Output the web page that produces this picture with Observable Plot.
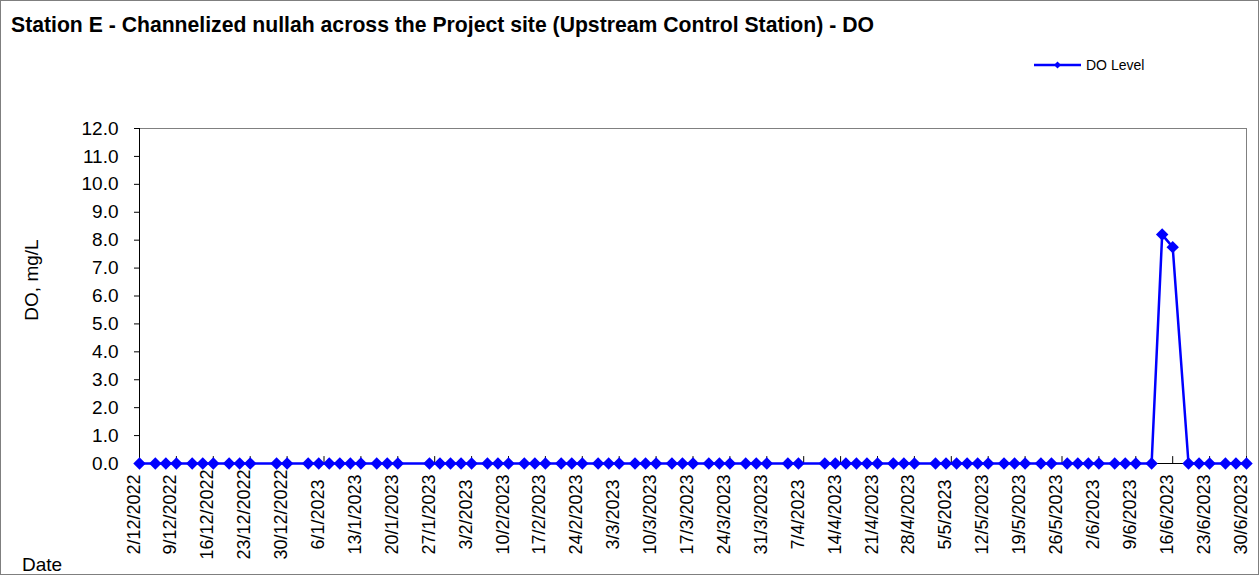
<!DOCTYPE html>
<html>
<head>
<meta charset="utf-8">
<script src="https://cdn.jsdelivr.net/npm/d3@7"></script>
<script src="https://cdn.jsdelivr.net/npm/@observablehq/plot@0.6"></script>
<style>
  body { margin: 0; background: #fff; font-family: Arial, "Liberation Sans", sans-serif; }
  #wrap { position: relative; width: 1259px; height: 575px; overflow: hidden; }
  #border { position: absolute; left: 0; top: 0; width: 1257px; height: 573px; border: 1px solid #7f7f7f; pointer-events: none; }
  #title { position: absolute; left: 11px; top: 14px; font-weight: bold; font-size: 21.2px; line-height: 21px; white-space: nowrap; color: #000; }
  #ylabel { position: absolute; left: 31px; top: 280px; font-size: 19px; line-height: 19px; white-space: nowrap; transform: translate(-50%, -50%) rotate(-90deg); color: #000; }
  #xlabel { position: absolute; left: 22px; top: 555px; font-size: 19px; line-height: 19px; color: #000; }
  #legend { position: absolute; left: 1034px; top: 57px; display: flex; align-items: center; font-size: 14px; line-height: 16px; color: #000; }
  #legend svg { margin-right: 5px; }
  #chart { position: absolute; left: 0; top: 0; }
</style>
</head>
<body>
<div id="wrap">
  <div id="chart"></div>
  <div id="title">Station E - Channelized nullah across the Project site (Upstream Control Station) - DO</div>
  <div id="legend"><svg width="47" height="16"><line x1="0" y1="8" x2="47" y2="8" stroke="#0000ff" stroke-width="2.5"/><path d="M23.5,4.5L27,8L23.5,11.5L20,8Z" fill="#0000ff"/></svg><span>DO Level</span></div>
  <div id="ylabel">DO, mg/L</div>
  <div id="xlabel">Date</div>
  <div id="border"></div>
</div>
<script>
// Sampling dates (d/m/yyyy)
const sampleDates = [
  "2/12/2022","5/12/2022","7/12/2022","9/12/2022","12/12/2022","14/12/2022","16/12/2022","19/12/2022","21/12/2022","23/12/2022","28/12/2022","30/12/2022",
  "3/1/2023","5/1/2023","7/1/2023","9/1/2023","11/1/2023","13/1/2023","16/1/2023","18/1/2023","20/1/2023","26/1/2023","28/1/2023","30/1/2023",
  "1/2/2023","3/2/2023","6/2/2023","8/2/2023","10/2/2023","13/2/2023","15/2/2023","17/2/2023","20/2/2023","22/2/2023","24/2/2023","27/2/2023",
  "1/3/2023","3/3/2023","6/3/2023","8/3/2023","10/3/2023","13/3/2023","15/3/2023","17/3/2023","20/3/2023","22/3/2023","24/3/2023","27/3/2023","29/3/2023","31/3/2023",
  "4/4/2023","6/4/2023","11/4/2023","13/4/2023","15/4/2023","17/4/2023","19/4/2023","21/4/2023","24/4/2023","26/4/2023","28/4/2023",
  "2/5/2023","4/5/2023","6/5/2023","8/5/2023","10/5/2023","12/5/2023","15/5/2023","17/5/2023","19/5/2023","22/5/2023","24/5/2023","27/5/2023","29/5/2023","31/5/2023",
  "2/6/2023","5/6/2023","7/6/2023","9/6/2023","12/6/2023","14/6/2023","16/6/2023","19/6/2023","21/6/2023","23/6/2023","26/6/2023","28/6/2023","30/6/2023"
];
// DO level, mg/L
const doLevels = [
  0,0,0,0,0,0,0,0,0,0,0,0,
  0,0,0,0,0,0,0,0,0,0,0,0,
  0,0,0,0,0,0,0,0,0,0,0,0,
  0,0,0,0,0,0,0,0,0,0,0,0,0,0,
  0,0,0,0,0,0,0,0,0,0,0,
  0,0,0,0,0,0,0,0,0,0,0,0,0,0,
  0,0,0,0,0,8.2,7.75,0,0,0,0,0,0
];
// X tick labels
const xTickLabels = [
  "2/12/2022","9/12/2022","16/12/2022","23/12/2022","30/12/2022",
  "6/1/2023","13/1/2023","20/1/2023","27/1/2023",
  "3/2/2023","10/2/2023","17/2/2023","24/2/2023",
  "3/3/2023","10/3/2023","17/3/2023","24/3/2023","31/3/2023",
  "7/4/2023","14/4/2023","21/4/2023","28/4/2023",
  "5/5/2023","12/5/2023","19/5/2023","26/5/2023",
  "2/6/2023","9/6/2023","16/6/2023","23/6/2023","30/6/2023"
];
// Y ticks
const yTicks = [0,1,2,3,4,5,6,7,8,9,10,11,12];

const parse = s => { const [d, m, y] = s.split("/").map(Number); return new Date(Date.UTC(y, m - 1, d)); };
const data = sampleDates.map((s, i) => ({date: parse(s), value: doLevels[i]}));
const tickDates = xTickLabels.map(parse);

const tickShape = { draw(ctx, l) { ctx.moveTo(0, 0); ctx.lineTo(0, -l); } };

const chart = Plot.plot({
  width: 1259,
  height: 575,
  marginLeft: 139,
  marginRight: 13,
  marginTop: 128,
  marginBottom: 112,
  style: {fontFamily: "Arial, 'Liberation Sans', sans-serif", fontSize: "19px", color: "#000", background: "transparent", overflow: "visible"},
  x: {type: "utc", domain: [tickDates[0], tickDates[tickDates.length - 1]], axis: null},
  y: {domain: [yTicks[0], yTicks[yTicks.length - 1]]},
  marks: [
    Plot.frame({stroke: "#808080"}),
    Plot.ruleX([tickDates[0]], {stroke: "#000"}),
    Plot.ruleY([yTicks[0]], {stroke: "#000"}),
    Plot.axisY({ticks: yTicks, tickFormat: d => d.toFixed(1), tickSize: 5, tickPadding: 16, label: null, fontSize: 19, stroke: "#000"}),
    Plot.vector(tickDates, {x: d => d, frameAnchor: "bottom", length: 7, anchor: "start", shape: tickShape, stroke: "#000", strokeWidth: 1}),
    Plot.text(xTickLabels, {x: parse, text: d => d, rotate: -90, frameAnchor: "bottom", dy: 51, textAnchor: "middle", fontSize: 18, fill: "#000"}),
    Plot.line(data, {x: "date", y: "value", stroke: "#0000ff", strokeWidth: 2.5}),
    Plot.dot(data, {x: "date", y: "value", symbol: "diamond2", r: 5.6, fill: "#0000ff", stroke: "none"})
  ]
});
document.getElementById("chart").append(chart);
</script>
</body>
</html>
